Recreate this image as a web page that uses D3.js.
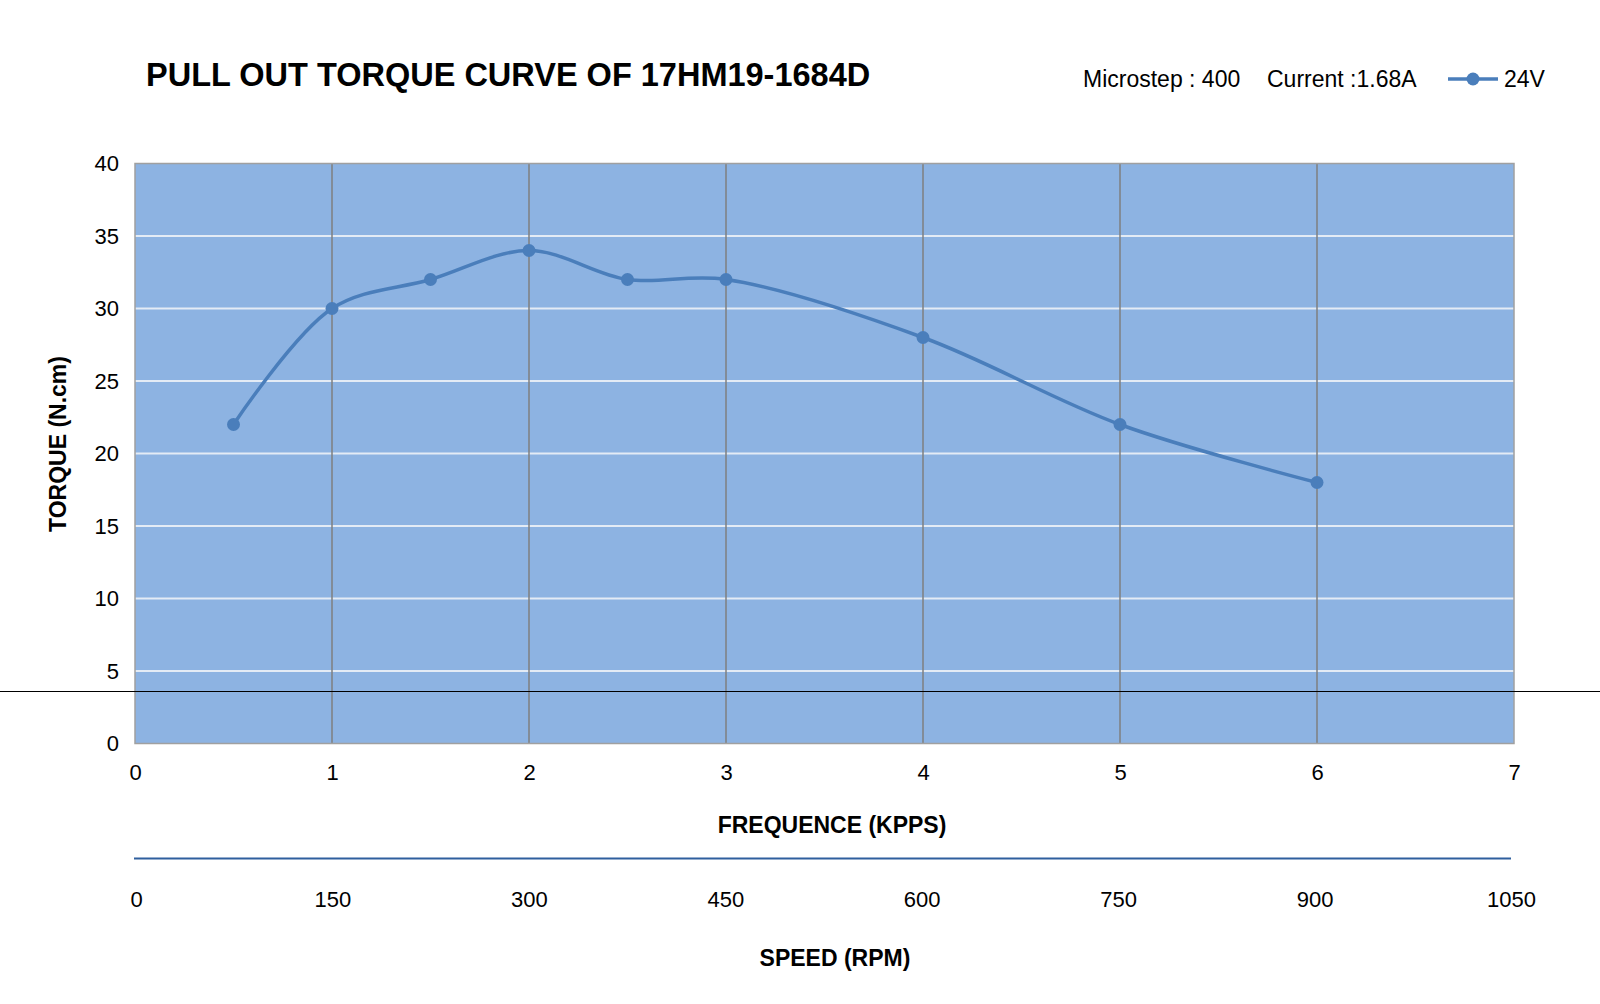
<!DOCTYPE html>
<html>
<head>
<meta charset="utf-8">
<script src="https://cdn.jsdelivr.net/npm/d3@7"></script>
<style>
  body { margin: 0; background: #fff; }
  svg { display: block; font-family: "Liberation Sans", Arial, sans-serif; }
</style>
</head>
<body>
<svg id="svg" width="1600" height="1004"></svg>
<script>
// data
const freq = [0.5, 1, 1.5, 2, 2.5, 3, 4, 5, 6];          // kpps
const torque = [22, 30, 32, 34, 32, 32, 28, 22, 18];      // N.cm
const freqTicks = [0, 1, 2, 3, 4, 5, 6, 7];
const torqueTicks = [0, 5, 10, 15, 20, 25, 30, 35, 40];
const speedTicks = [0, 150, 300, 450, 600, 750, 900, 1050];
const seriesName = "24V";
const infoLabels = ["Microstep : 400", "Current :1.68A"];

const plot = {left: 135, right: 1514, top: 163.5, bottom: 743.5};
const lineColor = "#4a7ebb";

const svg = d3.select("#svg");

const xScale = d3.scaleLinear().domain([0, 7]).range([plot.left, plot.right]);
const yScale = d3.scaleLinear().domain([0, 40]).range([plot.bottom, plot.top]);
const sScale = d3.scaleLinear().domain([0, 1050]).range([136, 1511]);

// plot background
svg.append("rect")
    .attr("x", plot.left)
    .attr("y", plot.top)
    .attr("width", plot.right - plot.left)
    .attr("height", plot.bottom - plot.top)
    .attr("fill", "#8db3e2");

// horizontal grid
svg.append("g")
    .selectAll("line")
    .data(torqueTicks.filter(d => d > 0 && d < 40))
    .join("line")
    .attr("x1", plot.left)
    .attr("x2", plot.right)
    .attr("y1", d => yScale(d))
    .attr("y2", d => yScale(d))
    .attr("stroke", "#e3ebf5")
    .attr("stroke-width", 2);

// vertical grid
svg.append("g")
    .selectAll("line")
    .data(freqTicks.filter(d => d > 0 && d < 7))
    .join("line")
    .attr("x1", d => xScale(d))
    .attr("x2", d => xScale(d))
    .attr("y1", plot.top)
    .attr("y2", plot.bottom)
    .attr("stroke", "#7f7f7f")
    .attr("stroke-width", 1.5);

// border
svg.append("rect")
    .attr("x", plot.left)
    .attr("y", plot.top)
    .attr("width", plot.right - plot.left)
    .attr("height", plot.bottom - plot.top)
    .attr("fill", "none")
    .attr("stroke", "#a0a0a0")
    .attr("stroke-width", 1.5);

// axes
const fmt = d3.format("d");
const xAxisCall = d3.axisBottom(xScale).tickValues(freqTicks).tickFormat(fmt).tickSize(0).tickPadding(21);
const yAxisCall = d3.axisLeft(yScale).tickValues(torqueTicks).tickFormat(fmt).tickSize(0).tickPadding(16);
const sAxisCall = d3.axisBottom(sScale).tickValues(speedTicks).tickFormat(fmt).tickSize(0).tickSizeOuter(0).tickPadding(33);

const gx = svg.append("g")
    .attr("class", "x axis")
    .attr("transform", "translate(0," + plot.bottom + ")")
    .call(xAxisCall);
gx.select(".domain").remove();

const gy = svg.append("g")
    .attr("class", "y axis")
    .attr("transform", "translate(" + plot.left + ",0)")
    .call(yAxisCall);
gy.select(".domain").remove();

const gs = svg.append("g")
    .attr("class", "s axis")
    .attr("transform", "translate(0,858.5)")
    .call(sAxisCall);
gs.select(".domain")
    .attr("stroke", "#2f5f9e")
    .attr("stroke-width", 2)
    .attr("d", "M134,0H1511");

svg.selectAll(".axis text")
    .attr("font-size", 22)
    .attr("fill", "#000")
    .attr("font-family", "Liberation Sans, Arial, sans-serif");

// series
const pts = freq.map((f, i) => [f, torque[i]]);
const line = d3.line()
    .x(d => xScale(d[0]))
    .y(d => yScale(d[1]))
    .curve(d3.curveCatmullRom.alpha(0.5));

svg.append("path")
    .datum(pts)
    .attr("d", line)
    .attr("fill", "none")
    .attr("stroke", lineColor)
    .attr("stroke-width", 3.5)
    .attr("stroke-linecap", "round");

svg.append("g")
    .selectAll("circle")
    .data(pts)
    .join("circle")
    .attr("cx", d => xScale(d[0]))
    .attr("cy", d => yScale(d[1]))
    .attr("r", 6.5)
    .attr("fill", lineColor);

// stray rule across the picture
svg.append("line")
    .attr("x1", 0)
    .attr("x2", 1600)
    .attr("y1", 691.5)
    .attr("y2", 691.5)
    .attr("stroke", "#000")
    .attr("stroke-width", 1);

// titles
svg.append("text")
    .attr("x", 146)
    .attr("y", 86)
    .attr("font-size", 32.5)
    .attr("font-weight", "bold")
    .text("PULL OUT TORQUE CURVE OF 17HM19-1684D");

svg.append("text")
    .attr("x", 832)
    .attr("y", 833)
    .attr("text-anchor", "middle")
    .attr("font-size", 23)
    .attr("font-weight", "bold")
    .text("FREQUENCE (KPPS)");

svg.append("text")
    .attr("x", 835)
    .attr("y", 966)
    .attr("text-anchor", "middle")
    .attr("font-size", 23)
    .attr("font-weight", "bold")
    .text("SPEED (RPM)");

svg.append("text")
    .attr("transform", "translate(66,444) rotate(-90)")
    .attr("text-anchor", "middle")
    .attr("font-size", 23)
    .attr("font-weight", "bold")
    .text("TORQUE (N.cm)");

// legend
const legend = svg.append("g");
legend.append("text")
    .attr("x", 1083)
    .attr("y", 86.5)
    .attr("font-size", 23)
    .text(infoLabels[0]);
legend.append("text")
    .attr("x", 1267)
    .attr("y", 86.5)
    .attr("font-size", 23)
    .text(infoLabels[1]);
legend.append("line")
    .attr("x1", 1448)
    .attr("x2", 1498)
    .attr("y1", 79)
    .attr("y2", 79)
    .attr("stroke", lineColor)
    .attr("stroke-width", 3.5);
legend.append("circle")
    .attr("cx", 1473)
    .attr("cy", 79)
    .attr("r", 6.5)
    .attr("fill", lineColor);
legend.append("text")
    .attr("x", 1504)
    .attr("y", 86.5)
    .attr("font-size", 23)
    .text(seriesName);
</script>
</body>
</html>
